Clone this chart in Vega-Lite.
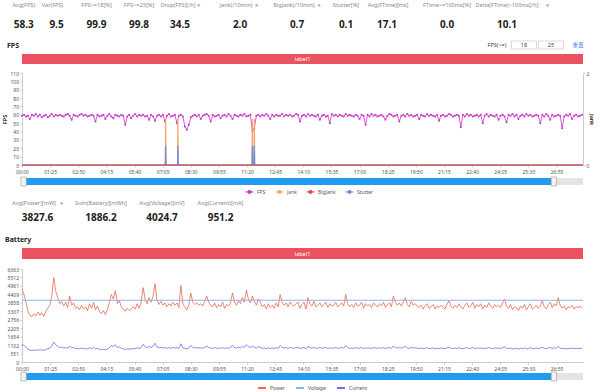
{
"$schema": "https://vega.github.io/schema/vega-lite/v6.json",
"padding": {"left": 2, "top": 0, "right": 0, "bottom": 0},
"background": "white",
"spacing": 0,
"bounds": "flush",
"resolve": {"scale": {"x": "independent", "y": "independent", "color": "independent"}, "legend": {"color": "independent"}, "axis": {"x": "independent", "y": "independent"}},
"config": {
  "font": "Noto Sans",
  "view": {"stroke": null},
  "axis": {"labelFontSize": 5, "labelColor": "#555", "domainColor": "#ccc", "tickColor": "#ccc", "tickSize": 2, "grid": false, "labelPadding": 1.5, "labelOverlap": false},
  "legend": {"labelFontSize": 5, "labelColor": "#555", "symbolSize": 64, "symbolStrokeWidth": 1, "columnPadding": 7, "labelOffset": 3}
},
"datasets": {
"main": [
{"t":0,"f":59,"p":4750,"c":1150},{"t":6,"f":60,"p":4400,"c":1080},{"t":12,"f":58,"p":3900,"c":960},{"t":18,"f":59,"p":3300,"c":830},{"t":24,"f":55,"p":3050,"c":770},{"t":30,"f":60,"p":2950,"c":750},{"t":36,"f":59,"p":3150,"c":780},{"t":42,"f":61,"p":3000,"c":760},{"t":48,"f":58,"p":3250,"c":800},{"t":54,"f":60,"p":3050,"c":770},
{"t":60,"f":57,"p":3200,"c":790},{"t":66,"f":59,"p":2980,"c":760},{"t":72,"f":60,"p":3300,"c":810},{"t":78,"f":57,"p":3500,"c":860},{"t":84,"f":59,"p":3700,"c":910},{"t":90,"f":61,"p":4300,"c":1050},{"t":96,"f":58,"p":5500,"c":1290},{"t":102,"f":60,"p":4600,"c":1120},{"t":108,"f":59,"p":4200,"c":1030},{"t":114,"f":60,"p":3800,"c":940},
{"t":120,"f":59,"p":3950,"c":970},{"t":126,"f":58,"p":3650,"c":910},{"t":132,"f":60,"p":3900,"c":950},{"t":138,"f":61,"p":3550,"c":880},{"t":144,"f":59,"p":4300,"c":1040},{"t":150,"f":54,"p":3700,"c":910},{"t":156,"f":60,"p":3850,"c":940},{"t":162,"f":59,"p":3500,"c":870},{"t":168,"f":58,"p":3600,"c":890},{"t":174,"f":60,"p":3400,"c":850},
{"t":180,"f":61,"p":3700,"c":910},{"t":186,"f":59,"p":3450,"c":860},{"t":192,"f":60,"p":3600,"c":890},{"t":198,"f":58,"p":3350,"c":840},{"t":204,"f":59,"p":3800,"c":930},{"t":210,"f":60,"p":3500,"c":870},{"t":216,"f":59,"p":3900,"c":950},{"t":222,"f":52,"p":3400,"c":850},{"t":228,"f":60,"p":3650,"c":900},{"t":234,"f":58,"p":3300,"c":830},
{"t":240,"f":59,"p":3150,"c":800},{"t":246,"f":60,"p":3350,"c":830},{"t":252,"f":55,"p":3100,"c":790},{"t":258,"f":59,"p":3400,"c":840},{"t":264,"f":61,"p":3900,"c":950},{"t":270,"f":58,"p":4400,"c":1070},{"t":276,"f":56,"p":4100,"c":1010},{"t":282,"f":60,"p":4650,"c":1120},{"t":288,"f":59,"p":3800,"c":940},{"t":294,"f":58,"p":4000,"c":980},
{"t":300,"f":60,"p":3600,"c":890},{"t":306,"f":59,"p":3450,"c":860},{"t":312,"f":48,"p":3300,"c":820},{"t":318,"f":58,"p":3500,"c":860},{"t":324,"f":60,"p":3350,"c":840},{"t":330,"f":56,"p":3450,"c":850},{"t":336,"f":59,"p":3600,"c":890},{"t":342,"f":61,"p":3450,"c":860},{"t":348,"f":58,"p":3800,"c":930},{"t":354,"f":60,"p":3500,"c":870},
{"t":360,"f":59,"p":3900,"c":950},{"t":366,"f":60,"p":4850,"c":1160},{"t":372,"f":58,"p":4100,"c":1000},{"t":378,"f":59,"p":3800,"c":930},{"t":384,"f":54,"p":4200,"c":1020},{"t":390,"f":60,"p":3900,"c":950},{"t":396,"f":58,"p":4300,"c":1040},{"t":402,"f":53,"p":5100,"c":1220},{"t":408,"f":59,"p":4000,"c":980},{"t":414,"f":60,"p":3750,"c":920},
{"t":420,"f":58,"p":3950,"c":960},{"t":426,"f":60,"p":3700,"c":910},{"t":432,"f":52,"p":3850,"c":940},{"t":438,"f":59,"p":3600,"c":890},{"t":444,"f":61,"p":3800,"c":930},{"t":450,"f":58,"p":3650,"c":900},{"t":456,"f":59,"p":3900,"c":950},{"t":462,"f":60,"p":3700,"c":910},{"t":468,"f":50,"p":3850,"c":940},{"t":474,"f":59,"p":3550,"c":880},
{"t":480,"f":60,"p":5000,"c":1190},{"t":486,"f":58,"p":3800,"c":930},{"t":492,"f":46,"p":3600,"c":890},{"t":498,"f":42,"p":3400,"c":850},{"t":504,"f":48,"p":3700,"c":910},{"t":510,"f":57,"p":4500,"c":1080},{"t":516,"f":59,"p":3900,"c":950},{"t":522,"f":60,"p":3750,"c":920},{"t":528,"f":58,"p":3850,"c":940},{"t":534,"f":60,"p":3700,"c":910},
{"t":540,"f":55,"p":3800,"c":930},{"t":546,"f":59,"p":3650,"c":900},{"t":552,"f":60,"p":3950,"c":960},{"t":558,"f":61,"p":4300,"c":1040},{"t":564,"f":59,"p":3900,"c":950},{"t":570,"f":52,"p":3700,"c":910},{"t":576,"f":60,"p":3600,"c":890},{"t":582,"f":58,"p":3850,"c":940},{"t":588,"f":59,"p":3550,"c":880},{"t":594,"f":60,"p":3750,"c":920},
{"t":600,"f":56,"p":3600,"c":890},{"t":606,"f":59,"p":3900,"c":950},{"t":612,"f":60,"p":3500,"c":870},{"t":618,"f":58,"p":3750,"c":920},{"t":624,"f":61,"p":3650,"c":900},{"t":630,"f":59,"p":3850,"c":940},{"t":636,"f":55,"p":4500,"c":1090},{"t":642,"f":60,"p":3900,"c":950},{"t":648,"f":59,"p":3700,"c":910},{"t":654,"f":58,"p":4000,"c":970},
{"t":660,"f":60,"p":3800,"c":930},{"t":666,"f":59,"p":4200,"c":1020},{"t":672,"f":61,"p":3900,"c":950},{"t":678,"f":58,"p":4700,"c":1130},{"t":684,"f":59,"p":4100,"c":1000},{"t":690,"f":60,"p":3850,"c":940},{"t":696,"f":40,"p":4300,"c":1040},{"t":702,"f":44,"p":3950,"c":960},{"t":708,"f":59,"p":3700,"c":910},{"t":714,"f":60,"p":4100,"c":1000},
{"t":720,"f":58,"p":3900,"c":950},{"t":726,"f":60,"p":3600,"c":890},{"t":732,"f":59,"p":3750,"c":920},{"t":738,"f":61,"p":3450,"c":860},{"t":744,"f":59,"p":3800,"c":930},{"t":750,"f":55,"p":3550,"c":880},{"t":756,"f":60,"p":3700,"c":910},{"t":762,"f":58,"p":3500,"c":870},{"t":768,"f":60,"p":3850,"c":940},{"t":774,"f":59,"p":3600,"c":890},
{"t":780,"f":59,"p":4400,"c":1070},{"t":786,"f":61,"p":3900,"c":950},{"t":792,"f":58,"p":3700,"c":910},{"t":798,"f":60,"p":3850,"c":940},{"t":804,"f":59,"p":3600,"c":890},{"t":810,"f":60,"p":3900,"c":950},{"t":816,"f":58,"p":3750,"c":920},{"t":822,"f":59,"p":3650,"c":900},{"t":828,"f":61,"p":3800,"c":930},{"t":834,"f":60,"p":3900,"c":950},
{"t":840,"f":52,"p":3500,"c":870},{"t":846,"f":59,"p":3750,"c":920},{"t":852,"f":60,"p":3900,"c":950},{"t":858,"f":58,"p":3450,"c":860},{"t":864,"f":61,"p":4200,"c":1020},{"t":870,"f":59,"p":3800,"c":930},{"t":876,"f":60,"p":3650,"c":900},{"t":882,"f":59,"p":3950,"c":960},{"t":888,"f":58,"p":3600,"c":890},{"t":894,"f":60,"p":3700,"c":910},
{"t":900,"f":54,"p":3850,"c":940},{"t":906,"f":59,"p":3600,"c":890},{"t":912,"f":60,"p":3750,"c":920},{"t":918,"f":58,"p":3900,"c":950},{"t":924,"f":59,"p":3550,"c":880},{"t":930,"f":50,"p":3800,"c":930},{"t":936,"f":61,"p":3650,"c":900},{"t":942,"f":59,"p":3700,"c":910},{"t":948,"f":60,"p":3900,"c":950},{"t":954,"f":58,"p":3600,"c":890},
{"t":960,"f":60,"p":3750,"c":920},{"t":966,"f":59,"p":3850,"c":940},{"t":972,"f":58,"p":3650,"c":900},{"t":978,"f":61,"p":4400,"c":1070},{"t":984,"f":59,"p":3800,"c":930},{"t":990,"f":60,"p":3600,"c":890},{"t":996,"f":59,"p":3750,"c":920},{"t":1002,"f":58,"p":3550,"c":880},{"t":1008,"f":60,"p":3850,"c":940},{"t":1014,"f":59,"p":3650,"c":900},
{"t":1020,"f":55,"p":3700,"c":910},{"t":1026,"f":60,"p":3900,"c":950},{"t":1032,"f":59,"p":3500,"c":870},{"t":1038,"f":48,"p":3800,"c":930},{"t":1044,"f":60,"p":3650,"c":900},{"t":1050,"f":58,"p":3750,"c":920},{"t":1056,"f":61,"p":3550,"c":880},{"t":1062,"f":59,"p":3850,"c":940},{"t":1068,"f":60,"p":3700,"c":910},{"t":1074,"f":58,"p":3600,"c":890},
{"t":1080,"f":59,"p":3800,"c":930},{"t":1086,"f":60,"p":3650,"c":900},{"t":1092,"f":58,"p":3900,"c":950},{"t":1098,"f":54,"p":3550,"c":880},{"t":1104,"f":59,"p":3750,"c":920},{"t":1110,"f":61,"p":3850,"c":940},{"t":1116,"f":60,"p":3600,"c":890},{"t":1122,"f":58,"p":4300,"c":1040},{"t":1128,"f":59,"p":3900,"c":950},{"t":1134,"f":60,"p":3700,"c":910},
{"t":1140,"f":52,"p":3850,"c":940},{"t":1146,"f":59,"p":3650,"c":900},{"t":1152,"f":60,"p":3900,"c":950},{"t":1158,"f":58,"p":4200,"c":1020},{"t":1164,"f":61,"p":3750,"c":920},{"t":1170,"f":59,"p":3600,"c":890},{"t":1176,"f":60,"p":3950,"c":960},{"t":1182,"f":58,"p":3700,"c":910},{"t":1188,"f":59,"p":3800,"c":930},{"t":1194,"f":60,"p":3650,"c":900},
{"t":1200,"f":55,"p":3550,"c":880},{"t":1206,"f":60,"p":3700,"c":910},{"t":1212,"f":59,"p":3450,"c":860},{"t":1218,"f":58,"p":3650,"c":900},{"t":1224,"f":61,"p":3800,"c":930},{"t":1230,"f":59,"p":3500,"c":870},{"t":1236,"f":60,"p":3600,"c":890},{"t":1242,"f":59,"p":3750,"c":920},{"t":1248,"f":58,"p":3450,"c":860},{"t":1254,"f":60,"p":3650,"c":900},
{"t":1260,"f":53,"p":3550,"c":880},{"t":1266,"f":59,"p":3700,"c":910},{"t":1272,"f":60,"p":3600,"c":890},{"t":1278,"f":58,"p":3450,"c":860},{"t":1284,"f":59,"p":3750,"c":920},{"t":1290,"f":61,"p":4000,"c":970},{"t":1296,"f":60,"p":3650,"c":900},{"t":1302,"f":58,"p":3500,"c":870},{"t":1308,"f":59,"p":3700,"c":910},{"t":1314,"f":60,"p":3550,"c":880},
{"t":1320,"f":59,"p":3800,"c":930},{"t":1326,"f":45,"p":3600,"c":890},{"t":1332,"f":60,"p":3450,"c":860},{"t":1338,"f":58,"p":3700,"c":910},{"t":1344,"f":61,"p":3850,"c":940},{"t":1350,"f":59,"p":3550,"c":880},{"t":1356,"f":60,"p":3650,"c":900},{"t":1362,"f":58,"p":3900,"c":950},{"t":1368,"f":59,"p":3500,"c":870},{"t":1374,"f":60,"p":3750,"c":920},
{"t":1380,"f":58,"p":3600,"c":890},{"t":1386,"f":60,"p":3800,"c":930},{"t":1392,"f":50,"p":3450,"c":860},{"t":1398,"f":59,"p":3700,"c":910},{"t":1404,"f":61,"p":3550,"c":880},{"t":1410,"f":58,"p":3850,"c":940},{"t":1416,"f":60,"p":3650,"c":900},{"t":1422,"f":59,"p":3500,"c":870},{"t":1428,"f":58,"p":3750,"c":920},{"t":1434,"f":60,"p":3600,"c":890},
{"t":1440,"f":54,"p":3700,"c":910},{"t":1446,"f":59,"p":3550,"c":880},{"t":1452,"f":60,"p":3850,"c":940},{"t":1458,"f":58,"p":4100,"c":1000},{"t":1464,"f":51,"p":3650,"c":900},{"t":1470,"f":60,"p":3500,"c":870},{"t":1476,"f":59,"p":3750,"c":920},{"t":1482,"f":61,"p":3400,"c":850},{"t":1488,"f":58,"p":3600,"c":890},{"t":1494,"f":60,"p":3550,"c":880},
{"t":1500,"f":55,"p":3350,"c":840},{"t":1506,"f":59,"p":3650,"c":900},{"t":1512,"f":60,"p":3500,"c":870},{"t":1518,"f":58,"p":3750,"c":920},{"t":1524,"f":61,"p":3400,"c":850},{"t":1530,"f":59,"p":3600,"c":890},{"t":1536,"f":60,"p":3800,"c":930},{"t":1542,"f":58,"p":3450,"c":860},{"t":1548,"f":59,"p":3550,"c":880},{"t":1554,"f":60,"p":3700,"c":910},
{"t":1560,"f":59,"p":3500,"c":870},{"t":1566,"f":50,"p":3650,"c":900},{"t":1572,"f":60,"p":4000,"c":970},{"t":1578,"f":58,"p":3600,"c":890},{"t":1584,"f":61,"p":3450,"c":860},{"t":1590,"f":59,"p":3750,"c":920},{"t":1596,"f":54,"p":3900,"c":950},{"t":1602,"f":60,"p":3550,"c":880},{"t":1608,"f":58,"p":3800,"c":930},{"t":1614,"f":59,"p":3650,"c":900},
{"t":1620,"f":60,"p":4200,"c":1020},{"t":1626,"f":59,"p":3700,"c":910},{"t":1632,"f":44,"p":3500,"c":870},{"t":1638,"f":58,"p":3650,"c":900},{"t":1644,"f":60,"p":3400,"c":850},{"t":1650,"f":59,"p":3600,"c":890},{"t":1656,"f":61,"p":3550,"c":880},{"t":1662,"f":55,"p":3700,"c":910},{"t":1668,"f":59,"p":3450,"c":860},{"t":1674,"f":60,"p":3600,"c":890},
{"t":1680,"f":58,"p":3550,"c":880},{"t":1686,"f":59,"p":3650,"c":900},{"t":1692,"f":60,"p":3500,"c":870}
],
"jank": [
{"t":0,"s":"Jank","v":0},{"t":433,"s":"Jank","v":0},{"t":434,"s":"Jank","v":1},{"t":435,"s":"Jank","v":0},{"t":470,"s":"Jank","v":0},{"t":471,"s":"Jank","v":1},{"t":472,"s":"Jank","v":0},{"t":695,"s":"Jank","v":0},{"t":696,"s":"Jank","v":1},{"t":697,"s":"Jank","v":0},{"t":701,"s":"Jank","v":0},{"t":702,"s":"Jank","v":1},{"t":703,"s":"Jank","v":0},{"t":1695,"s":"Jank","v":0},
{"t":0,"s":"Stutter","v":0},{"t":433,"s":"Stutter","v":0},{"t":434,"s":"Stutter","v":0.42},{"t":435,"s":"Stutter","v":0},{"t":470,"s":"Stutter","v":0},{"t":471,"s":"Stutter","v":0.42},{"t":472,"s":"Stutter","v":0},{"t":695,"s":"Stutter","v":0},{"t":696,"s":"Stutter","v":0.42},{"t":697,"s":"Stutter","v":0},{"t":701,"s":"Stutter","v":0},{"t":702,"s":"Stutter","v":0.42},{"t":703,"s":"Stutter","v":0},{"t":1695,"s":"Stutter","v":0},
{"t":0,"s":"BigJank","v":0},{"t":1695,"s":"BigJank","v":0}
],
"volt": [{"t":0,"v":4024.7},{"t":1695,"v":4024.7}],
"none": []
},
"vconcat": [
{
 "hconcat": [
  {"width": 18, "height": 36, "data": {"values": [{"k": "Avg(FPS)", "v": 58.3}]}, "layer": [
    {"mark": {"type": "text", "dy": -13, "dx": -7.2, "fontSize": 5.6, "color": "#888"}, "encoding": {"text": {"field": "k"}}},
    {"mark": {"type": "text", "dy": 6.5, "dx": -7.2, "fontSize": 10, "fontWeight": "bold", "color": "#222"}, "encoding": {"text": {"field": "v", "format": ".1f"}}}]},
  {"width": 33, "height": 36, "data": {"values": [{"k": "Var(FPS)", "v": 9.5}]}, "layer": [
    {"mark": {"type": "text", "dy": -13, "dx": -4, "fontSize": 5.6, "color": "#888"}, "encoding": {"text": {"field": "k"}}},
    {"mark": {"type": "text", "dy": 6.5, "fontSize": 10, "fontWeight": "bold", "color": "#222"}, "encoding": {"text": {"field": "v", "format": ".1f"}}}]},
  {"width": 47, "height": 36, "data": {"values": [{"k": "FPS>=18[%]", "v": 99.9}]}, "layer": [
    {"mark": {"type": "text", "dy": -13, "fontSize": 5.6, "color": "#888"}, "encoding": {"text": {"field": "k"}}},
    {"mark": {"type": "text", "dy": 6.5, "fontSize": 10, "fontWeight": "bold", "color": "#222"}, "encoding": {"text": {"field": "v", "format": ".1f"}}}]},
  {"width": 38, "height": 36, "data": {"values": [{"k": "FPS>=25[%]", "v": 99.8}]}, "layer": [
    {"mark": {"type": "text", "dy": -13, "fontSize": 5.6, "color": "#888"}, "encoding": {"text": {"field": "k"}}},
    {"mark": {"type": "text", "dy": 6.5, "fontSize": 10, "fontWeight": "bold", "color": "#222"}, "encoding": {"text": {"field": "v", "format": ".1f"}}}]},
  {"width": 44, "height": 36, "data": {"values": [{"k": "Drop(FPS)[/h]", "v": 34.5}]}, "layer": [
    {"mark": {"type": "text", "dy": -13, "dx": -2, "fontSize": 5.6, "color": "#888"}, "encoding": {"text": {"field": "k"}}},
    {"mark": {"type": "text", "dy": -13, "dx": 18.5, "fontSize": 6, "color": "#a9b4c8", "text": "●"}},
    {"mark": {"type": "text", "dy": 6.5, "fontSize": 10, "fontWeight": "bold", "color": "#222"}, "encoding": {"text": {"field": "v", "format": ".1f"}}}]},
  {"width": 76, "height": 36, "data": {"values": [{"k": "Jank(/10min)", "v": 2.0}]}, "layer": [
    {"mark": {"type": "text", "dy": -13, "dx": -4, "fontSize": 5.6, "color": "#888"}, "encoding": {"text": {"field": "k"}}},
    {"mark": {"type": "text", "dy": -13, "dx": 16.5, "fontSize": 6, "color": "#a9b4c8", "text": "●"}},
    {"mark": {"type": "text", "dy": 6.5, "fontSize": 10, "fontWeight": "bold", "color": "#222"}, "encoding": {"text": {"field": "v", "format": ".1f"}}}]},
  {"width": 38, "height": 36, "data": {"values": [{"k": "BigJank(/10min)", "v": 0.7}]}, "layer": [
    {"mark": {"type": "text", "dy": -13, "dx": -3, "fontSize": 5.6, "color": "#888"}, "encoding": {"text": {"field": "k"}}},
    {"mark": {"type": "text", "dy": -13, "dx": 22, "fontSize": 6, "color": "#a9b4c8", "text": "●"}},
    {"mark": {"type": "text", "dy": 6.5, "fontSize": 10, "fontWeight": "bold", "color": "#222"}, "encoding": {"text": {"field": "v", "format": ".1f"}}}]},
  {"width": 60, "height": 36, "data": {"values": [{"k": "Stutter[%]", "v": 0.1}]}, "layer": [
    {"mark": {"type": "text", "dy": -13, "fontSize": 5.6, "color": "#888"}, "encoding": {"text": {"field": "k"}}},
    {"mark": {"type": "text", "dy": 6.5, "fontSize": 10, "fontWeight": "bold", "color": "#222"}, "encoding": {"text": {"field": "v", "format": ".1f"}}}]},
  {"width": 22, "height": 36, "data": {"values": [{"k": "Avg(FTime)[ms]", "v": 17.1}]}, "layer": [
    {"mark": {"type": "text", "dy": -13, "dx": 1, "fontSize": 5.6, "color": "#888"}, "encoding": {"text": {"field": "k"}}},
    {"mark": {"type": "text", "dy": 6.5, "fontSize": 10, "fontWeight": "bold", "color": "#222"}, "encoding": {"text": {"field": "v", "format": ".1f"}}}]},
  {"width": 98, "height": 36, "data": {"values": [{"k": "FTime>=100ms[%]", "v": 0.0}]}, "layer": [
    {"mark": {"type": "text", "dy": -13, "fontSize": 5.6, "color": "#888"}, "encoding": {"text": {"field": "k"}}},
    {"mark": {"type": "text", "dy": 6.5, "fontSize": 10, "fontWeight": "bold", "color": "#222"}, "encoding": {"text": {"field": "v", "format": ".1f"}}}]},
  {"width": 22, "height": 36, "data": {"values": [{"k": "Delta(FTime)>100ms[/h]", "v": 10.1}]}, "layer": [
    {"mark": {"type": "text", "dy": -13, "dx": 0, "fontSize": 5.6, "color": "#888"}, "encoding": {"text": {"field": "k"}}},
    {"mark": {"type": "text", "dy": -13, "dx": 40.5, "fontSize": 6, "color": "#a9b4c8", "text": "●"}},
    {"mark": {"type": "text", "dy": 6.5, "fontSize": 10, "fontWeight": "bold", "color": "#222"}, "encoding": {"text": {"field": "v", "format": ".1f"}}}]}
 ],
 "spacing": 0, "bounds": "flush"
},
{"width": 561, "height": 36, "data": {"name": "none"}, "mark": "point", "encoding": {}},
{
 "width": 561, "height": 18,
 "data": {"values": [{"k": "FPS(>=)"}, {"k": "18"}, {"k": "25"}, {"k": "重置"}]},
 "encoding": {"x": {"field": "k", "type": "nominal", "sort": ["FPS(>=)", "18", "25", "重置"], "axis": null, "scale": {"type": "point", "range": [475, 556], "padding": 0}}},
 "layer": [
  {"transform": [{"filter": "datum.k == '18' || datum.k == '25'"}], "mark": {"type": "point", "shape": "M-1,-0.32H1V0.32H-1Z", "size": 625, "filled": true, "fill": "white", "stroke": "#c8c8c8", "strokeWidth": 0.7, "opacity": 1}},
  {"transform": [{"filter": "datum.k != '重置'"}], "mark": {"type": "text", "fontSize": 5.5, "color": "#444"}, "encoding": {"text": {"field": "k"}}},
  {"transform": [{"filter": "datum.k == '重置'"}], "mark": {"type": "text", "fontSize": 5.5, "color": "#3a7cf0", "font": "Noto Sans CJK SC"}, "encoding": {"text": {"field": "k"}}}
 ]
},
{
 "width": 561, "height": 10,
 "view": {"fill": "#e9525e", "stroke": null},
 "title": {"text": "FPS", "anchor": "start", "dx": -15, "offset": 5, "fontSize": 7, "fontWeight": "bold", "color": "#222"},
 "data": {"values": [{"l": "label1"}]},
 "mark": {"type": "text", "color": "white", "fontSize": 5.5},
 "encoding": {"text": {"field": "l"}}
},
{"width": 561, "height": 9, "data": {"name": "none"}, "mark": "point", "encoding": {}},
{
 "width": 561, "height": 92,
 "layer": [
  {
   "data": {"name": "main"},
   "mark": {"type": "line", "strokeWidth": 0.8, "point": {"filled": true, "size": 4}},
   "encoding": {
    "x": {"field": "t", "type": "quantitative", "scale": {"domain": [0, 1695], "nice": false, "zero": false},
          "axis": {"values": [0,85,170,255,340,425,510,595,680,765,850,935,1020,1105,1190,1275,1360,1445,1530,1615], "tickCount": 20, "labelExpr": "utcFormat(datum.value*1000,'%M:%S')", "title": null, "labelOverlap": false, "labelFlush": false, "labelPadding": 2}},
    "y": {"field": "f", "type": "quantitative", "scale": {"domain": [0, 110], "nice": false},
          "axis": {"values": [0,10,20,30,40,50,60,70,80,90,100,110], "tickCount": 12, "title": "FPS", "titleFontSize": 5.5, "titleFontWeight": "bold", "titleColor": "#333", "titlePadding": 2}},
    "color": {"datum": "FPS", "type": "nominal", "scale": {"domain": ["FPS", "Jank", "BigJank", "Stutter"], "range": ["#c935c9", "#f6a46a", "#e8423c", "#6a8fd8"]},
              "legend": {"orient": "none", "legendX": 223, "legendY": 114, "direction": "horizontal", "title": null, "symbolType": "M-1,0H1M-0.4,0A0.4,0.4 0 1,0 0.4,0A0.4,0.4 0 1,0 -0.4,0"}}
   }
  },
  {
   "data": {"name": "jank"},
   "mark": {"type": "line", "strokeWidth": 1.2},
   "encoding": {
    "x": {"field": "t", "type": "quantitative"},
    "y": {"field": "v", "type": "quantitative", "scale": {"domain": [0, 2], "nice": false},
          "axis": {"orient": "right", "values": [0, 1, 2], "tickCount": 3, "format": "d", "title": "Jank", "titleFontSize": 5, "titleFontWeight": "bold", "titleColor": "#333", "titlePadding": 0, "labelPadding": 1}},
    "color": {"field": "s", "type": "nominal", "sort": null,
              "legend": {"orient": "none", "legendX": 223, "legendY": 114, "direction": "horizontal", "title": null, "symbolType": "M-1,0H1M-0.4,0A0.4,0.4 0 1,0 0.4,0A0.4,0.4 0 1,0 -0.4,0"}}
   }
  }
 ],
 "resolve": {"scale": {"y": "independent"}, "axis": {"y": "independent"}}
},
{"width": 561, "height": 13, "data": {"name": "none"}, "mark": "point", "encoding": {}},
{
 "width": 561, "height": 7,
 "layer": [
  {"data": {"values": [{"a": 0, "b": 1695}]}, "mark": {"type": "rect", "color": "#e4e4e4"},
   "encoding": {"x": {"field": "a", "type": "quantitative", "scale": {"domain": [0, 1695], "nice": false, "zero": false}, "axis": null}, "x2": {"field": "b"}}},
  {"data": {"values": [{"a": 6, "b": 1604}]}, "mark": {"type": "rect", "color": "#1f9bf0"},
   "encoding": {"x": {"field": "a", "type": "quantitative"}, "x2": {"field": "b"}}},
  {"data": {"values": [{"a": 5}, {"a": 1607}]}, "mark": {"type": "point", "shape": "M-0.6,-1H0.6V1H-0.6Z", "size": 81, "filled": true, "fill": "#f2f2f2", "stroke": "#999", "strokeWidth": 0.6, "opacity": 1},
   "encoding": {"x": {"field": "a", "type": "quantitative"}}}
 ]
},
{
 "hconcat": [
  {"width": 31, "height": 63, "data": {"values": [{"k": "Avg(Power)[mW]", "v": 3827.6}]}, "layer": [
    {"mark": {"type": "text", "dy": -13.5, "dx": -3.5, "fontSize": 5.6, "color": "#888"}, "encoding": {"text": {"field": "k"}}},
    {"mark": {"type": "text", "dy": -13.5, "dx": 24, "fontSize": 6, "color": "#a9b4c8", "text": "●"}},
    {"mark": {"type": "text", "dy": 1.5, "fontSize": 10, "fontWeight": "bold", "color": "#222"}, "encoding": {"text": {"field": "v", "format": ".1f"}}}]},
  {"width": 96, "height": 63, "data": {"values": [{"k": "Sum(Battery)[mWh]", "v": 1886.2}]}, "layer": [
    {"mark": {"type": "text", "dy": -13.5, "fontSize": 5.6, "color": "#888"}, "encoding": {"text": {"field": "k"}}},
    {"mark": {"type": "text", "dy": 1.5, "fontSize": 10, "fontWeight": "bold", "color": "#222"}, "encoding": {"text": {"field": "v", "format": ".1f"}}}]},
  {"width": 26, "height": 63, "data": {"values": [{"k": "Avg(Voltage)[mV]", "v": 4024.7}]}, "layer": [
    {"mark": {"type": "text", "dy": -13.5, "fontSize": 5.6, "color": "#888"}, "encoding": {"text": {"field": "k"}}},
    {"mark": {"type": "text", "dy": 1.5, "fontSize": 10, "fontWeight": "bold", "color": "#222"}, "encoding": {"text": {"field": "v", "format": ".1f"}}}]},
  {"width": 91, "height": 63, "data": {"values": [{"k": "Avg(Current)[mA]", "v": 951.2}]}, "layer": [
    {"mark": {"type": "text", "dy": -13.5, "fontSize": 5.6, "color": "#888"}, "encoding": {"text": {"field": "k"}}},
    {"mark": {"type": "text", "dy": 1.5, "fontSize": 10, "fontWeight": "bold", "color": "#222"}, "encoding": {"text": {"field": "v", "format": ".1f"}}}]}
 ],
 "spacing": 0, "bounds": "flush"
},
{"width": 561, "height": 63, "data": {"name": "none"}, "mark": "point", "encoding": {}},
{
 "width": 561, "height": 11,
 "view": {"fill": "#e9525e", "stroke": null},
 "title": {"text": "Battery", "anchor": "start", "dx": -17, "offset": 5, "fontSize": 7, "fontWeight": "bold", "color": "#222"},
 "data": {"values": [{"l": "label1"}]},
 "mark": {"type": "text", "color": "white", "fontSize": 5.5},
 "encoding": {"text": {"field": "l"}}
},
{"width": 561, "height": 10, "data": {"name": "none"}, "mark": "point", "encoding": {}},
{
 "width": 561, "height": 93,
 "layer": [
  {
   "data": {"name": "main"},
   "mark": {"type": "line", "strokeWidth": 0.8},
   "encoding": {
    "x": {"field": "t", "type": "quantitative", "scale": {"domain": [0, 1695], "nice": false, "zero": false},
          "axis": {"values": [0,85,170,255,340,425,510,595,680,765,850,935,1020,1105,1190,1275,1360,1445,1530,1615], "tickCount": 20, "labelExpr": "utcFormat(datum.value*1000,'%M:%S')", "title": null, "labelOverlap": false, "labelFlush": false, "labelPadding": 2}},
    "y": {"field": "p", "type": "quantitative", "scale": {"domain": [0, 6063], "nice": false},
          "axis": {"values": [0,551.18,1102.36,1653.55,2204.73,2755.91,3307.09,3858.27,4409.45,4960.64,5511.82,6063], "tickCount": 12, "format": ".0f", "title": null, "labelOverlap": false}},
    "color": {"datum": "Power", "type": "nominal", "scale": {"domain": ["Power", "Voltage", "Current"], "range": ["#e9694b", "#86b8f0", "#8c5ff0"]},
              "legend": {"orient": "none", "legendX": 235, "legendY": 114, "direction": "horizontal", "title": null, "symbolType": "M-1,0H1", "symbolStrokeWidth": 2}}
   }
  },
  {
   "data": {"name": "volt"},
   "mark": {"type": "line", "strokeWidth": 1.2},
   "encoding": {"x": {"field": "t", "type": "quantitative"}, "y": {"field": "v", "type": "quantitative"}, "color": {"datum": "Voltage", "type": "nominal"}}
  },
  {
   "data": {"name": "main"},
   "mark": {"type": "line", "strokeWidth": 0.8},
   "encoding": {"x": {"field": "t", "type": "quantitative"}, "y": {"field": "c", "type": "quantitative"}, "color": {"datum": "Current", "type": "nominal"}}
  }
 ]
},
{"width": 561, "height": 11, "data": {"name": "none"}, "mark": "point", "encoding": {}},
{
 "width": 561, "height": 7,
 "layer": [
  {"data": {"values": [{"a": 0, "b": 1695}]}, "mark": {"type": "rect", "color": "#e4e4e4"},
   "encoding": {"x": {"field": "a", "type": "quantitative", "scale": {"domain": [0, 1695], "nice": false, "zero": false}, "axis": null}, "x2": {"field": "b"}}},
  {"data": {"values": [{"a": 6, "b": 1604}]}, "mark": {"type": "rect", "color": "#1f9bf0"},
   "encoding": {"x": {"field": "a", "type": "quantitative"}, "x2": {"field": "b"}}},
  {"data": {"values": [{"a": 5}, {"a": 1607}]}, "mark": {"type": "point", "shape": "M-0.6,-1H0.6V1H-0.6Z", "size": 81, "filled": true, "fill": "#f2f2f2", "stroke": "#999", "strokeWidth": 0.6, "opacity": 1},
   "encoding": {"x": {"field": "a", "type": "quantitative"}}}
 ]
}
]
}
